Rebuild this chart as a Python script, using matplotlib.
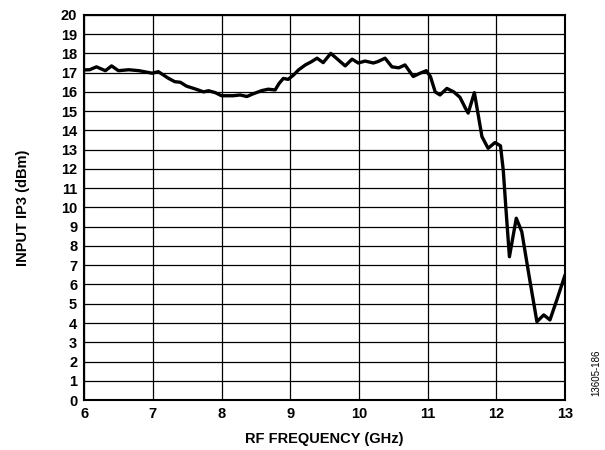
import matplotlib.pyplot as plt
import numpy as np

plt.rcParams['font.family'] = ['Liberation Sans', 'DejaVu Sans']

freq = [6.0, 6.08, 6.18, 6.31, 6.40, 6.50, 6.65, 6.80, 6.99, 7.08, 7.23, 7.32, 7.40,
        7.49, 7.62, 7.74, 7.81, 7.91, 8.0, 8.17, 8.27, 8.37, 8.46, 8.59, 8.68, 8.78,
        8.84, 8.90, 8.97, 9.05, 9.12, 9.22, 9.31, 9.39, 9.48, 9.59, 9.70, 9.80, 9.90,
        9.99, 10.09, 10.21, 10.28, 10.38, 10.48, 10.58, 10.67, 10.79, 10.89, 10.98,
        11.04, 11.11, 11.18, 11.28, 11.38, 11.47, 11.55, 11.59, 11.68, 11.74, 11.79,
        11.88, 11.98, 12.06, 12.10, 12.14, 12.19, 12.29, 12.37, 12.47, 12.59, 12.69,
        12.78, 12.88, 13.0]
ip3 = [17.14, 17.15, 17.3, 17.1, 17.35, 17.1, 17.15, 17.1, 16.97, 17.05, 16.7, 16.53, 16.5,
       16.3, 16.15, 16.0, 16.06, 15.96, 15.8, 15.8, 15.84, 15.76, 15.9, 16.07, 16.14, 16.1,
       16.45, 16.7, 16.65, 16.88, 17.14, 17.4, 17.57, 17.75, 17.52, 18.0, 17.66, 17.35, 17.7,
       17.5, 17.6, 17.5, 17.58, 17.75, 17.3, 17.25, 17.4, 16.8, 16.97, 17.1,
       16.8, 16.0, 15.84, 16.18, 16.0, 15.72, 15.15, 14.9, 15.96, 14.72, 13.68,
       13.07, 13.37, 13.2, 11.95, 9.9, 7.44, 9.44, 8.74, 6.58, 4.07, 4.42,
       4.16, 5.2, 6.5]

fig = plt.figure(figsize=(6.05, 4.5), dpi=100)
ax = fig.add_axes([0.139, 0.111, 0.795, 0.856])
ax.plot(freq, ip3, color='black', lw=2.4, solid_joinstyle='round',
        solid_capstyle='round', zorder=3)

ax.set_xlim(6, 13)
ax.set_ylim(0, 20)
ax.set_xticks(np.arange(6, 14, 1))
ax.set_yticks(np.arange(0, 21, 1))
ax.grid(True, color='black', lw=0.9)
ax.tick_params(length=0, labelsize=10.5, pad=5)
for lab in ax.get_xticklabels() + ax.get_yticklabels():
    lab.set_fontweight('bold')
for s in ax.spines.values():
    s.set_linewidth(1.5)

ax.set_xlabel('RF FREQUENCY (GHz)', fontsize=10.5, fontweight='bold', labelpad=8)
ax.set_ylabel('INPUT IP3 (dBm)', fontsize=10.5, fontweight='bold', labelpad=22)
fig.text(0.985, 0.12, '13605-186', rotation=90, fontsize=7, ha='center', va='bottom')

fig.savefig('out.png', dpi=100)
